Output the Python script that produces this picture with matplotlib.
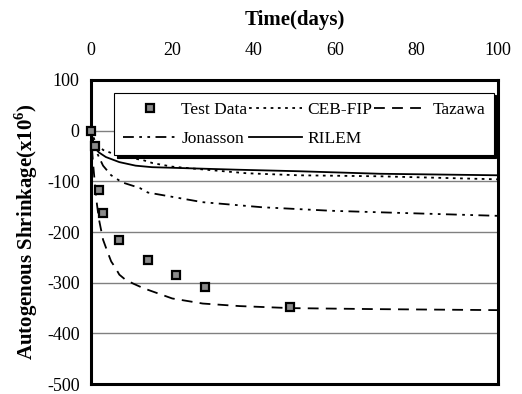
import matplotlib
matplotlib.use("Agg")
import matplotlib.pyplot as plt

plt.rcParams["font.family"] = ["Liberation Serif", "DejaVu Serif"]
plt.rcParams["mathtext.fontset"] = "custom"
plt.rcParams["mathtext.rm"] = "Liberation Serif:bold"
plt.rcParams["mathtext.bf"] = "Liberation Serif:bold"
plt.rcParams["axes.unicode_minus"] = False

# measured autogenous shrinkage
test_days = [0, 1, 2, 3, 7, 14, 21, 28, 49]
test_vals = [0, -31, -118, -163, -216, -255, -285, -309, -348]

# model predictions
ceb_days = [0, 1, 3, 7, 12.8, 15.2, 20, 28.3, 38.3, 51, 71, 100]
ceb_vals = [0, -20, -38, -50, -58, -64, -71, -77, -84, -88, -90, -96]

taz_days = [0, 0.5, 1, 1.5, 2, 3, 4, 5, 6, 7, 8.5, 10.5, 13, 20, 27.5, 36.5, 49, 70, 100]
taz_vals = [0, -60, -105, -145, -175, -215, -237, -258, -270, -284, -294, -302,
            -311, -331, -341, -346, -350, -352, -354]

jon_days = [0, 1, 3, 5, 7.7, 12, 14, 27.4, 42, 59, 71, 100]
jon_vals = [0, -35, -69, -88, -102, -113, -122, -141, -151, -158, -161, -168]

ril_days = [0, 0.5, 1.2, 2, 3.7, 7, 11, 15, 36, 51, 71, 100]
ril_vals = [0, -20, -36, -43, -52, -62, -69, -72, -77, -80, -85, -88]

fig = plt.figure(figsize=(5.22, 3.94), dpi=100)
ax = fig.add_axes([0.174, 0.025, 0.78, 0.772])

for y in [0, -100, -200, -300, -400]:
    ax.axhline(y, color="#808080", lw=1.0, zorder=1)

h_test, = ax.plot(test_days, test_vals, ls="none", marker="s", ms=6,
                  mfc="#8a8a8a", mec="black", mew=1.6, clip_on=False, zorder=5)
h_ceb, = ax.plot(ceb_days, ceb_vals, color="black", lw=1.3, ls=(0, (1.5, 2.5)), zorder=3)
h_taz, = ax.plot(taz_days, taz_vals, color="black", lw=1.3, ls=(0, (6, 4)), zorder=3)
h_jon, = ax.plot(jon_days, jon_vals, color="black", lw=1.3,
                 ls=(0, (6, 3, 1.5, 3, 1.5, 3)), zorder=3)
h_ril, = ax.plot(ril_days, ril_vals, color="black", lw=1.3, zorder=3)

ax.set_xlim(0, 100)
ax.set_ylim(-500, 100)
ax.set_xticks([0, 20, 40, 60, 80, 100])
ax.set_yticks([100, 0, -100, -200, -300, -400, -500])
ax.xaxis.tick_top()
ax.xaxis.set_label_position("top")
ax.tick_params(axis="x", length=0, pad=15, labelsize=13)
ax.tick_params(axis="y", length=0, pad=8, labelsize=13)

for s in ax.spines.values():
    s.set_linewidth(2.2)
    s.set_color("black")

ax.set_xlabel("Time(days)", fontsize=15, fontweight="bold", labelpad=12)
ax.set_ylabel(r"Autogenous Shrinkage(x10$^{6}$)", fontsize=15, fontweight="bold",
              labelpad=5)

leg = ax.legend([h_test, h_jon, h_ceb, h_ril, h_taz],
                ["Test Data", "Jonasson", "CEB-FIP", "RILEM", "Tazawa"],
                ncol=3, loc="upper left", bbox_to_anchor=(0.058, 0.958),
                borderaxespad=0, fontsize=12.5, handlelength=3.05, handletextpad=0.3,
                columnspacing=0.1, borderpad=0.5, labelspacing=0.75,
                fancybox=False, framealpha=1, edgecolor="black",
                shadow={"color": "black", "alpha": 1, "ox": 1.5, "oy": -1.5})
leg.get_frame().set_linewidth(0.8)
leg.set_zorder(10)

fig.savefig("out.png", dpi=100)
